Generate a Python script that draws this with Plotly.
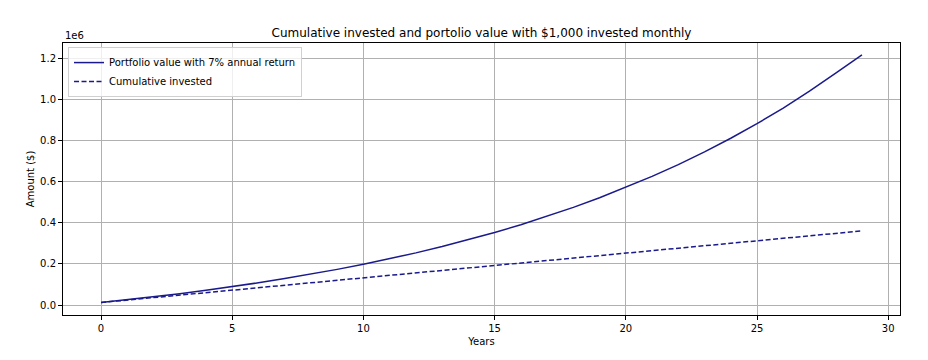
import plotly.graph_objects as go

years = list(range(30))
portfolio_value = [12400, 25700, 39900, 55200, 71600, 89200, 108000, 128200, 149900, 173100,
                   198000, 224700, 253300, 284000, 317000, 352300, 390100, 430700, 474300, 520900,
                   571000, 624700, 682200, 743900, 810100, 881000, 957100, 1038700, 1126200, 1215000]
cumulative_invested = [12000, 24000, 36000, 48000, 60000, 72000, 84000, 96000, 108000, 120000,
                       132000, 144000, 156000, 168000, 180000, 192000, 204000, 216000, 228000, 240000,
                       252000, 264000, 276000, 288000, 300000, 312000, 324000, 336000, 348000, 360000]
y_tick_vals = [0, 200000, 400000, 600000, 800000, 1000000, 1200000]
y_tick_text = ["0.0", "0.2", "0.4", "0.6", "0.8", "1.0", "1.2"]
x_tick_vals = [0, 5, 10, 15, 20, 25, 30]

color = "#1a1a8c"
font = "DejaVu Sans"

# page body has an 8px margin, so the figure is sized 920x352 and offset
W, H = 920, 352
L, R, T, B = 55, 28, 35, 45

fig = go.Figure()
fig.add_trace(go.Scatter(x=years, y=portfolio_value, mode="lines",
                         name="Portfolio value with 7% annual return",
                         line=dict(color=color, width=1.5)))
fig.add_trace(go.Scatter(x=years, y=cumulative_invested, mode="lines",
                         name="Cumulative invested",
                         line=dict(color=color, width=1.5, dash="5px,2.5px")))

axis_common = dict(showgrid=True, gridcolor="#b0b0b0", gridwidth=0.8,
                   showline=True, linecolor="black", linewidth=1, mirror=True,
                   ticks="outside", ticklen=4, tickcolor="black", tickwidth=1,
                   zeroline=False, automargin=False,
                   tickfont=dict(family=font, size=10, color="black"))

fig.update_layout(
    width=W, height=H,
    margin=dict(l=L, r=R, t=T, b=B, autoexpand=False),
    paper_bgcolor="white", plot_bgcolor="white",
    font=dict(family=font, color="black"),
    title=dict(text="Cumulative invested and portolio value with $1,000 invested monthly",
               x=(L + (W - R)) / 2 / W, xanchor="center", y=1 - 25 / H, yanchor="middle",
               font=dict(family=font, size=12, color="black")),
    xaxis=dict(range=[-1.45, 30.45], tickvals=x_tick_vals,
               title=dict(text="Years", font=dict(family=font, size=10), standoff=4),
               **axis_common),
    yaxis=dict(range=[-48600, 1273000], tickvals=y_tick_vals, ticktext=y_tick_text,
               title=dict(text="Amount ($)", font=dict(family=font, size=10), standoff=3),
               **axis_common),
    legend=dict(x=0.006, y=0.985, xanchor="left", yanchor="top",
                bgcolor="rgba(255,255,255,0.8)", bordercolor="#d0d0d0", borderwidth=1,
                font=dict(family=font, size=10), itemwidth=30, tracegroupgap=0),
    showlegend=True,
)
fig.add_annotation(text="1e6", xref="paper", yref="paper", x=0, y=1, xanchor="left",
                   yanchor="bottom", showarrow=False, font=dict(family=font, size=10))

fig.write_html("out.html")
